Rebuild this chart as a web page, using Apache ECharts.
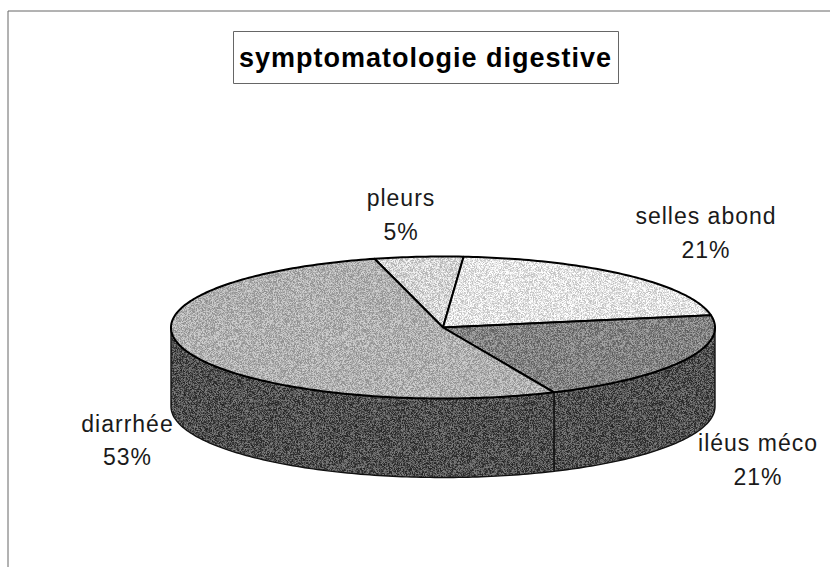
<!DOCTYPE html>
<html><head><meta charset="utf-8">
<style>html,body{margin:0;padding:0;background:#fff}#c{width:830px;height:567px}
#c svg text{letter-spacing:1px}</style>
<script src="https://cdn.jsdelivr.net/npm/echarts@6/dist/echarts.min.js"></script>
</head><body><div id="c"></div>
<script>
const categories = ['pleurs','selles abond','iléus méco','diarrhée'];
const counts = [1,4,4,10];
const titleText = 'symptomatologie digestive';
const topGrays = [[212,212,212],[228,228,228],[130,130,130],[176,176,176]];
const sideGray = [80,80,80];

function noise(rgb, amp){
  const cv=document.createElement('canvas');cv.width=cv.height=128;
  const ctx=cv.getContext('2d');const im=ctx.createImageData(128,128);
  let s=12345;
  for(let i=0;i<128*128;i++){
    s=(s*1103515245+12345)&0x7fffffff;
    const d=(((s>>16)&255)/255-0.5)*2*amp;
    im.data[i*4]=Math.max(0,Math.min(255,rgb[0]+d));
    im.data[i*4+1]=Math.max(0,Math.min(255,rgb[1]+d));
    im.data[i*4+2]=Math.max(0,Math.min(255,rgb[2]+d));
    im.data[i*4+3]=255;
  }
  ctx.putImageData(im,0,0);
  return {image:cv.toDataURL(),repeat:'repeat',imageWidth:128,imageHeight:128};
}
const CX=443,CY=327.5,RX=272,RY=71,DEPTH=79,START=-14.6;
const total=counts.reduce((a,b)=>a+b,0);
const pt=(t,dy)=>{const r=t*Math.PI/180;return [CX+RX*Math.sin(r),CY-RY*Math.cos(r)+(dy||0)];};
const labelPos=[[401,215],[706,233],[758,460],[127.5,440.5]];
const sideFill=noise(sideGray,48);
const topFills=topGrays.map((g,i)=>noise(g,[38,38,40,36][i]));

function arc(a,b,dy){const n=Math.max(2,Math.ceil(Math.abs(b-a)));const o=[];for(let i=0;i<=n;i++)o.push(pt(a+(b-a)*i/n,dy));return o;}
function renderItem(params,api){
  const i=params.dataIndex;
  let acc=0;for(let k=0;k<i;k++)acc+=counts[k];
  const val=api.value(0);
  const a=START+acc/total*360,b=a+val/total*360;
  const children=[];
  const fa=Math.max(a,90),fb=Math.min(b,270);
  if(fb>fa){
    const top=arc(fa,fb,0),bot=arc(fb,fa,DEPTH);
    children.push({type:'polygon',shape:{points:top.concat(bot)},style:{fill:sideFill,stroke:'#111',lineWidth:1.4},z2:1});
  }
  children.push({type:'polygon',shape:{points:[[CX,CY]].concat(arc(a,b,0))},style:{fill:topFills[i],stroke:'#000',lineWidth:2,lineJoin:'round'},z2:2});
  const p=labelPos[i];
  children.push({type:'text',style:{x:p[0],y:p[1],text:categories[i]+'\n'+Math.round(val/total*100)+'%',align:'center',verticalAlign:'middle',
    font:'23px "Liberation Sans", Arial, sans-serif',lineHeight:33.5,fill:'#1a1a1a'},z2:5});
  return {type:'group',children};
}
const chart=echarts.init(document.getElementById('c'),null,{renderer:'svg'});
chart.setOption({
  animation:false,
  backgroundColor:'#fff',
  title:{text:titleText,left:233,top:31,padding:[13,32,13,6],borderColor:'#666',borderWidth:1,
    textStyle:{fontFamily:'"Liberation Sans", Arial, sans-serif',fontSize:27,fontWeight:'bold',color:'#000'}},
  graphic:[
    {type:'polyline',shape:{points:[[8,567],[8,11],[830,11]]},style:{stroke:'#666',fill:'none',lineWidth:1},silent:true}
  ],
  series:[{type:'custom',coordinateSystem:'none',renderItem,data:counts.map((v,i)=>({name:categories[i],value:[v]})),silent:true,clip:false}]
});
</script></body></html>
